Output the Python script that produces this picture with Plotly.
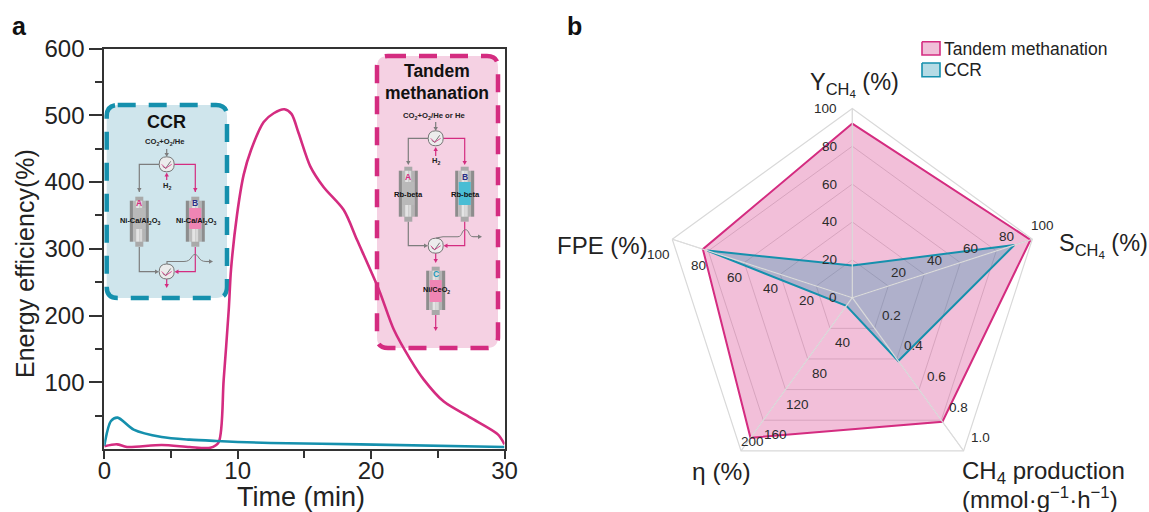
import math
import plotly.graph_objects as go

W, H = 1149, 512
PINK = "#d42c80"
TEAL = "#1590ad"
INK = "#222222"
FONT = "Liberation Sans"

# ---- panel a data
tandem_t = [0, 0.95, 1.7, 4.3, 6.4, 7.95, 8.57, 8.95, 9.33, 9.5, 9.95, 10.45, 11.0, 11.95, 12.7, 13.5, 14.03,
            14.57, 15.45, 16.45, 17.95, 18.95, 20.6, 21.7, 22.95, 23.95, 25.45, 27.45, 29.5, 30]
tandem_e = [4, 7, 3, 6, 3, 2, 10, 104, 209, 269, 351, 411, 448, 490, 503, 509, 502,
            473, 423, 392, 358, 313, 238, 179, 134, 104, 71, 47, 22, 7]
ccr_t = [0, 0.5, 1.0, 2.2, 4.3, 6.4, 8.4, 12.45, 19.2, 30]
ccr_e = [5, 42, 47, 29, 18, 14, 12, 9, 7, 3]

# ---- panel b data
axis_names = ["Y_CH4", "S_CH4", "CH4 production", "eta", "FPE"]
axis_max = [100, 100, 1.0, 200, 100]
tandem_radar = [92, 99, 0.81, 183, 83]
ccr_radar = [17, 90, 0.413, 10.6, 80.5]
tick_labels = [
    ["0", "20", "40", "60", "80", "100"],
    ["20", "40", "60", "80", "100"],
    ["0.2", "0.4", "0.6", "0.8", "1.0"],
    ["40", "80", "120", "160", "200"],
    ["20", "40", "60", "80", "100"],
]

CX, CY, R = 852.3, 297.7, 189.3


def px(x):
    return x / W


def py(y):
    return 1 - y / H


def pct(values):
    return [100 * v / m for v, m in zip(values, axis_max)]


shapes = []
annots = []


def text(x, y, s, size=13, color=INK, bold=False, anchor="center", yanchor="middle", angle=0):
    annots.append(dict(xref="paper", yref="paper", x=px(x), y=py(y), text=f"<b>{s}</b>" if bold else s,
                       showarrow=False, xanchor=anchor, yanchor=yanchor, borderpad=0, borderwidth=0, textangle=angle,
                       font=dict(family=FONT, size=size, color=color)))


def path(d, line=None, width=1, fill=None, dash=None):
    shapes.append(dict(type="path", xref="paper", yref="paper", path=d, layer="below",
                       fillcolor=fill or "rgba(0,0,0,0)",
                       line=dict(color=line or "rgba(0,0,0,0)", width=width if line else 0, dash=dash)))


def P(x, y):
    return f"{px(x):.5f},{py(y):.5f}"


def poly(points, **kw):
    path("M " + " L ".join(P(*p) for p in points), **kw)


def rect(x0, y0, x1, y1, fill):
    poly([(x0, y0), (x1, y0), (x1, y1), (x0, y1), (x0, y0)], fill=fill)


def round_box(x0, y0, x1, y1, r, fill, line):
    d = (f"M {P(x0 + r, y0)} L {P(x1 - r, y0)} Q {P(x1, y0)} {P(x1, y0 + r)} L {P(x1, y1 - r)} "
         f"Q {P(x1, y1)} {P(x1 - r, y1)} L {P(x0 + r, y1)} Q {P(x0, y1)} {P(x0, y1 - r)} "
         f"L {P(x0, y0 + r)} Q {P(x0, y0)} {P(x0 + r, y0)} Z")
    path(d, fill=fill)
    path(d, line=line, width=4.5, dash="18px,13px")


def arrow_down(x, y, color):
    poly([(x - 2.2, y - 4), (x + 2.2, y - 4), (x, y), (x - 2.2, y - 4)], fill=color)


def arrow_up(x, y, color):
    poly([(x - 2.2, y + 4), (x + 2.2, y + 4), (x, y), (x - 2.2, y + 4)], fill=color)


def arrow_right(x, y, color):
    poly([(x - 4, y - 2.2), (x - 4, y + 2.2), (x, y), (x - 4, y - 2.2)], fill=color)


def arrow_left(x, y, color):
    poly([(x + 4, y - 2.2), (x + 4, y + 2.2), (x, y), (x + 4, y - 2.2)], fill=color)


def reactor(cx, y0, y1, pack_fill, pack_y0, pack_y1):
    hw = 9.5
    rect(cx - 4, y0, cx + 4, y1, "#a9a9a9")
    strips = ["#8d8d8d", "#bcbcbc", "#e4e4e4", "#d8d8d8", "#b4b4b4", "#8d8d8d"]
    n = len(strips)
    for i, c in enumerate(strips):
        rect(cx - hw + 2 * hw * i / n, y0 + 4, cx - hw + 2 * hw * (i + 1) / n, y1 - 5, c)
    rect(cx - 6, pack_y0, cx + 6, pack_y1, pack_fill)


def valve(cx, cy, r=7.5):
    d = (f"M {P(cx - r, cy)} Q {P(cx - r, cy - r)} {P(cx, cy - r)} Q {P(cx + r, cy - r)} {P(cx + r, cy)} "
         f"Q {P(cx + r, cy + r)} {P(cx, cy + r)} Q {P(cx - r, cy + r)} {P(cx - r, cy)} Z")
    path(d, fill="#ececec", line="#777777", width=1)
    poly([(cx - 4, cy + 2), (cx - 1, cy + 4), (cx + 4, cy - 3)], line="#777777", width=1)
    poly([(cx - 5, cy), (cx - 1, cy + 4), (cx + 5, cy)], line=PINK, width=0.8)


def hump(x0, x1, y, color):
    m = (x0 + x1) / 2
    path(f"M {P(x0, y)} C {P(m - 3, y)} {P(m - 4, y - 7)} {P(m, y - 7)} C {P(m + 4, y - 7)} {P(m + 3, y)} {P(x1, y)}",
         line=color, width=1)


GRAY = "#7d7d7d"

# ---- CCR inset
round_box(106.7, 105, 227, 298, 11, "#cfe5ec", TEAL)
text(166.7, 122, "CCR", 18, "#111111", True)
text(165, 142, "CO<sub>2</sub>+O<sub>2</sub>/He", 7.6, "#222222", True)
reactor(139.3, 196.7, 246.7, "#b9b9b9", 208, 229)
reactor(195.3, 196.7, 246.7, "#ef85b4", 208, 229)
poly([(159, 164.3), (139.3, 164.3), (139.3, 192)], line=GRAY, width=1.2)
arrow_down(139.3, 192, GRAY)
poly([(174, 164.3), (195.3, 164.3), (195.3, 192)], line=PINK, width=1.2)
arrow_down(195.3, 192, PINK)
poly([(166.7, 149), (166.7, 155)], line=GRAY, width=1.2)
arrow_down(166.7, 157, GRAY)
poly([(166.7, 180), (166.7, 176)], line=PINK, width=1.2)
arrow_up(166.7, 172.5, PINK)
poly([(139.3, 247), (139.3, 271.7), (155, 271.7)], line=GRAY, width=1.2)
arrow_right(159, 271.7, GRAY)
poly([(195.3, 247), (195.3, 271.7), (178, 271.7)], line=PINK, width=1.2)
arrow_left(174.5, 271.7, PINK)
poly([(167, 264), (167, 261.5), (184, 261.5)], line=GRAY, width=1.1)
hump(184, 206, 261.5, GRAY)
poly([(206, 261.5), (209, 261.5)], line=GRAY, width=1.1)
arrow_right(213, 261.5, GRAY)
poly([(166.7, 279), (166.7, 284)], line=PINK, width=1.2)
arrow_down(166.7, 288, PINK)
valve(166.7, 164.3)
valve(166.7, 271.5)
text(166.7, 186, "H<sub>2</sub>", 7.5, "#222222", True)
text(139.3, 203, "A", 8.5, PINK, True)
text(195.3, 203, "B", 8.5, "#2b2f86", True)
text(139.8, 220.7, "Ni-Ca/Al<sub>2</sub>O<sub>3</sub>", 7.4, "#111111", True)
text(195.8, 220.7, "Ni-Ca/Al<sub>2</sub>O<sub>3</sub>", 7.4, "#111111", True)

# ---- Tandem inset
round_box(377, 56, 498, 348, 11, "#f5d1e3", PINK)
text(436.7, 70.7, "Tandem", 17.5, "#111111", True)
text(436.7, 92.7, "methanation", 17.5, "#111111", True)
text(434.3, 116, "CO<sub>2</sub>+O<sub>2</sub>/He or He", 7.7, "#222222", True)
reactor(408.3, 166.7, 221.7, "#b9b9b9", 182, 205)
reactor(464.7, 166.7, 221.7, "#49bdd4", 182, 205)
reactor(435.7, 266.7, 315, "#ef85b4", 280, 302)
poly([(428, 138.3), (408.3, 138.3), (408.3, 161)], line=GRAY, width=1.2)
arrow_down(408.3, 165, GRAY)
poly([(443, 138.3), (464.7, 138.3), (464.7, 161)], line=PINK, width=1.2)
arrow_down(464.7, 165, PINK)
poly([(435.7, 122), (435.7, 127)], line=GRAY, width=1.2)
arrow_down(435.7, 131, GRAY)
poly([(435.7, 156), (435.7, 151)], line=PINK, width=1.2)
arrow_up(435.7, 147, PINK)
poly([(408.3, 221.7), (408.3, 245.7), (424, 245.7)], line=GRAY, width=1.2)
arrow_right(428, 245.7, GRAY)
poly([(464.7, 221.7), (464.7, 245.7), (447, 245.7)], line=PINK, width=1.2)
arrow_left(443.5, 245.7, PINK)
poly([(436, 238), (443, 236.7), (458, 236.7)], line=GRAY, width=1.1)
hump(458, 473, 236.7, GRAY)
poly([(473, 236.7), (478, 236.7)], line=GRAY, width=1.1)
arrow_right(482, 236.7, GRAY)
poly([(435.7, 253), (435.7, 259)], line=PINK, width=1.2)
arrow_down(435.7, 263, PINK)
poly([(435.7, 315), (435.7, 327)], line=PINK, width=1.2)
arrow_down(435.7, 331, PINK)
valve(435.7, 138.3)
valve(435.7, 245.7)
text(435.7, 161, "H<sub>2</sub>", 7.5, "#222222", True)
text(408.3, 177, "A", 8.5, PINK, True)
text(464.7, 177, "B", 8.5, "#2b2f86", True)
text(435.7, 274, "C", 8.5, "#1b9ab8", True)
text(408.8, 194.3, "Rb-beta", 7.6, "#111111", True)
text(465.2, 194.3, "Rb-beta", 7.6, "#111111", True)
text(436.5, 290, "Ni/CeO<sub>2</sub>", 7.3, "#111111", True)

# ---- Legend key
rect(922, 41.7, 940, 55, "#f0bfd8")
poly([(922, 41.7), (940, 41.7), (940, 55), (922, 55), (922, 41.7)], line=PINK, width=1.6)
text(944, 48.5, "Tandem methanation", 17.5, anchor="left")
rect(922, 63, 940, 76.7, "#b5dbe5")
poly([(922, 63), (940, 63), (940, 76.7), (922, 76.7), (922, 63)], line=TEAL, width=1.6)
text(944, 70, "CCR", 17.5, anchor="left")

# ---- Radar tick labels
offsets = [(-15, 0), (10, -14), (17, -13), (12, 14.5), (-10, 14.5)]
for i, labels in enumerate(tick_labels):
    ang = math.radians(72 * i)
    for lab in labels:
        frac = float(lab) / axis_max[i]
        dx, dy = offsets[i]
        if lab == "200":
            dx, dy = 11, -9
        if i == 4 and lab == "100":
            dx, dy = -14, 15
        x = CX + R * frac * math.sin(ang) + dx
        y = CY - R * frac * math.cos(ang) + dy
        text(x, y, lab, 13.5, "#2b2b2b", anchor="right" if i == 0 else "center")

# ---- Captions and panel letters
text(854, 84, "Y<sub>CH<sub>4</sub></sub> (%)", 23.5, anchor="center")
text(1059, 245, "S<sub>CH<sub>4</sub></sub> (%)", 23.5, anchor="left")
text(557, 245, "FPE (%)", 24, anchor="left")
text(692, 471, "η (%)", 24.5, anchor="left")
text(962, 472, "CH<sub>4</sub> production", 24, anchor="left")
text(962, 498, "(mmol·g<sup>−1</sup>·h<sup>−1</sup>)", 24, anchor="left")
text(19, 26, "a", 25, "#111111", True)
text(574, 26, "b", 25, "#111111", True)
text(301, 497, "Time (min)", 27)
text(25, 264, "Energy efficiency(%)", 25, angle=-90)

fig = go.Figure()
fig.add_trace(go.Scatter(x=tandem_t, y=tandem_e, mode="lines", line=dict(color=PINK, width=2.6, shape="spline", smoothing=0.8),
                         showlegend=False, cliponaxis=False))
fig.add_trace(go.Scatter(x=ccr_t, y=ccr_e, mode="lines", line=dict(color=TEAL, width=2.6, shape="spline", smoothing=0.8),
                         showlegend=False, cliponaxis=False))

theta = axis_names + axis_names[:1]
r_tandem = pct(tandem_radar)
r_ccr = pct(ccr_radar)
fig.add_trace(go.Scatterpolar(r=r_tandem + r_tandem[:1], theta=theta, mode="lines", fill="toself", name="Tandem methanation",
                              line=dict(color=PINK, width=2), fillcolor="rgba(212,44,128,0.30)", showlegend=False))
fig.add_trace(go.Scatterpolar(r=r_ccr + r_ccr[:1], theta=theta, mode="lines", fill="toself", name="CCR",
                              line=dict(color=TEAL, width=2), fillcolor="rgba(21,144,173,0.30)", showlegend=False))
for name in axis_names:
    fig.add_trace(go.Scatterpolar(r=[0, 100], theta=[name, name], mode="lines", showlegend=False, hoverinfo="skip",
                                  line=dict(color="#dcdcdc", width=1.2)))

tick_font = dict(family=FONT, size=24, color=INK)
fig.update_layout(
    width=W, height=H, autosize=False, margin=dict(l=0, r=0, t=0, b=0),
    paper_bgcolor="white", plot_bgcolor="rgba(0,0,0,0)",
    font=dict(family=FONT, color=INK), showlegend=False,
    shapes=shapes, annotations=annots,
    xaxis=dict(domain=[104.3 / W, 504.5 / W], range=[0, 30], tickvals=[0, 10, 20, 30], ticks="outside", ticklen=8,
               automargin=False, mirror=True, ticklabelstandoff=-9,
               tickwidth=2, tickcolor="#333333", showgrid=False, zeroline=False, showline=True, linecolor="#333333",
               linewidth=2, tickfont=tick_font, minor=dict(tickvals=[5, 15, 25], ticks="outside", ticklen=7, tickwidth=2,
                                                           tickcolor="#333333")),
    yaxis=dict(domain=[1 - 449 / H, 1 - 48.5 / H], range=[0, 600], tickvals=[100, 200, 300, 400, 500, 600], ticks="outside",
               automargin=False, mirror=True,
               ticklen=13, tickwidth=2, tickcolor="#333333", showgrid=False, zeroline=False, showline=True,
               linecolor="#333333", linewidth=2, tickfont=tick_font,
               minor=dict(tickvals=[50, 150, 250, 350, 450, 550], ticks="outside", ticklen=7, tickwidth=2, tickcolor="#333333")),
    polar=dict(domain=dict(x=[(CX - R) / W, (CX + R) / W], y=[1 - (CY + R) / H, 1 - (CY - R) / H]),
               gridshape="linear", bgcolor="rgba(0,0,0,0)",
               radialaxis=dict(range=[0, 100], tickvals=[20, 40, 60, 80, 100], showticklabels=False, ticks="", showline=False,
                               gridcolor="#d9d9d9", gridwidth=1.2),
               angularaxis=dict(direction="clockwise", rotation=90, showticklabels=False, ticks="", categoryorder="array",
                                categoryarray=axis_names, gridcolor="#dcdcdc", linecolor="#d9d9d9", linewidth=1.2)),
)

fig.write_html("out.html", config=dict(displayModeBar=False),
               post_script="document.body.style.margin='0';document.body.style.overflow='hidden';")
